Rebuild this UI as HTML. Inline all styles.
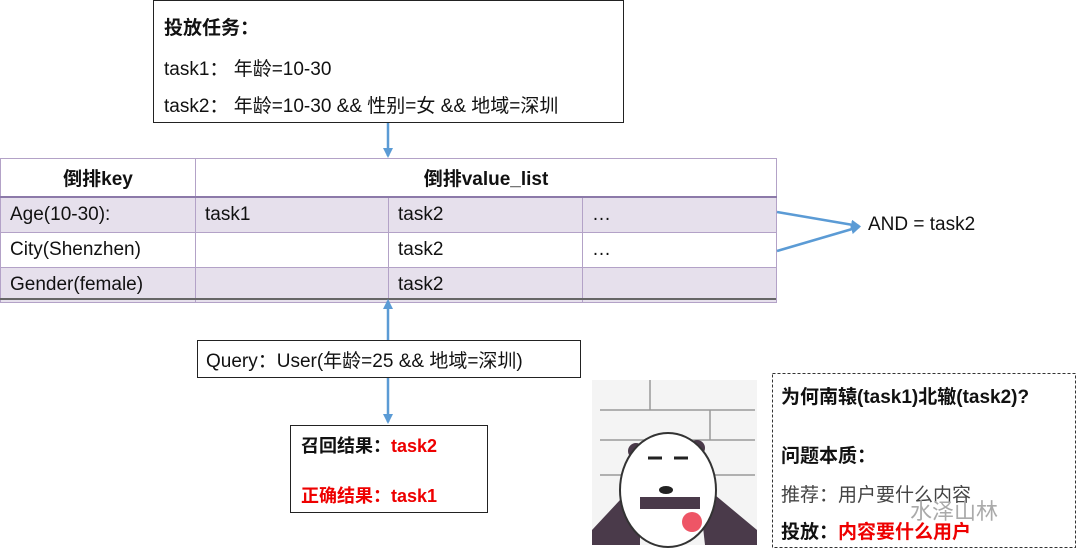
<!DOCTYPE html><html><head><meta charset="utf-8"><style>
body{margin:0;width:1080px;height:554px;background:#fff;position:relative;overflow:hidden;font-family:"Liberation Sans","Noto Sans CJK SC",sans-serif;color:#111}
.a{position:absolute}
.box{position:absolute;border:1px solid #222;background:#fff;box-sizing:border-box}
td{border:1px solid #b3a2c7;padding:0 0 0 9px;font-size:19px;height:35px;box-sizing:border-box}
table{border-collapse:collapse;position:absolute;left:0;top:158px;width:776px;table-layout:fixed}
.l td{background:#e6e0ec}
th{font-size:19px;height:35px;border:1px solid #b3a2c7;border-bottom:2px solid #8c7aa9}
.red{color:#e00;font-weight:bold}
</style></head><body>
<div class="box" style="left:153px;top:0;width:471px;height:123px;font-size:19px">
<div class="a" style="left:10px;top:12px;font-weight:bold">投放任务：</div>
<div class="a" style="left:10px;top:53px">task1： 年龄=10-30</div>
<div class="a" style="left:10px;top:90px">task2： 年龄=10-30 &amp;&amp; 性别=女 &amp;&amp; 地域=深圳</div>
</div>
<table><colgroup><col style="width:195px"><col style="width:193px"><col style="width:194px"><col style="width:194px"></colgroup>
<tr><th>倒排key</th><th colspan="3">倒排value_list</th></tr>
<tr class="l"><td>Age(10-30):</td><td>task1</td><td>task2</td><td>…</td></tr>
<tr><td>City(Shenzhen)</td><td></td><td>task2</td><td>…</td></tr>
<tr class="l"><td>Gender(female)</td><td></td><td>task2</td><td></td></tr>
</table>
<div class="a" style="left:0;top:298px;width:776px;height:2px;background:#666"></div>
<div class="a" style="left:868px;top:214px;font-size:19px">AND = task2</div>
<div class="box" style="left:197px;top:340px;width:384px;height:38px;font-size:19px;padding:5px 0 0 8px">Query：User(年龄=25 &amp;&amp; 地域=深圳)</div>
<div class="box" style="left:290px;top:425px;width:198px;height:88px;font-size:18px">
<div class="a" style="left:10px;top:6px"><b>召回结果：</b><span class="red">task2</span></div>
<div class="a" style="left:10px;top:56px"><span class="red">正确结果：task1</span></div>
</div>
<svg class="a" style="left:0;top:0" width="1080" height="554">
<defs><marker id="m" markerWidth="10" markerHeight="10" refX="8" refY="5" orient="auto" markerUnits="userSpaceOnUse"><path d="M0,0L10,5L0,10z" fill="#5b9bd5"/></marker></defs>
<g stroke="#5b9bd5" stroke-width="2.5" fill="none" marker-end="url(#m)">
<line x1="388" y1="123" x2="388" y2="156"/>
<line x1="388" y1="340" x2="388" y2="301"/>
<line x1="388" y1="378" x2="388" y2="422"/>
<line x1="777" y1="212" x2="859" y2="226"/>
<line x1="777" y1="251" x2="859" y2="227"/>
</g>
<g>
<rect x="592" y="380" width="165" height="165" fill="#f4f4f4"/>
<g stroke="#999" stroke-width="1.5" fill="none"><line x1="600" y1="410" x2="755" y2="410"/><line x1="600" y1="440" x2="755" y2="440"/><line x1="600" y1="475" x2="755" y2="475"/><line x1="650" y1="380" x2="650" y2="410"/><line x1="710" y1="410" x2="710" y2="440"/></g>
<path d="M592,530 L620,500 L640,500 L640,545 L592,545z" fill="#4a3a4a"/>
<path d="M757,530 L715,495 L700,500 L705,545 L757,545z" fill="#4a3a4a"/>
<circle cx="636" cy="451" r="8" fill="#4a3a4a"/><circle cx="697" cy="448" r="8" fill="#4a3a4a"/>
<ellipse cx="668" cy="490" rx="48" ry="57" fill="#fff" stroke="#333" stroke-width="2"/>
<rect x="640" y="497" width="60" height="12" fill="#4a3a4a"/>
<circle cx="692" cy="522" r="10" fill="#ee5566"/>
<path d="M648,458h14M674,458h14" stroke="#222" stroke-width="3"/><ellipse cx="666" cy="490" rx="7" ry="4" fill="#222"/>
</g>
<rect x="772.5" y="373.5" width="303" height="174" fill="none" stroke="#333" stroke-dasharray="3,2"/>
</svg>
<div class="a" style="left:781px;top:382px;font-size:19px;font-weight:bold">为何南辕(task1)北辙(task2)?</div>
<div class="a" style="left:781px;top:441px;font-size:19px;font-weight:bold">问题本质：</div>
<div class="a" style="left:781px;top:480px;font-size:19px;color:#444">推荐：用户要什么内容</div>
<div class="a" style="left:910px;top:494px;font-size:22px;color:#aaa">水泽山林</div>
<div class="a" style="left:781px;top:517px;font-size:19px;font-weight:bold">投放：<span style="color:#e00">内容要什么用户</span></div>
</body></html>
